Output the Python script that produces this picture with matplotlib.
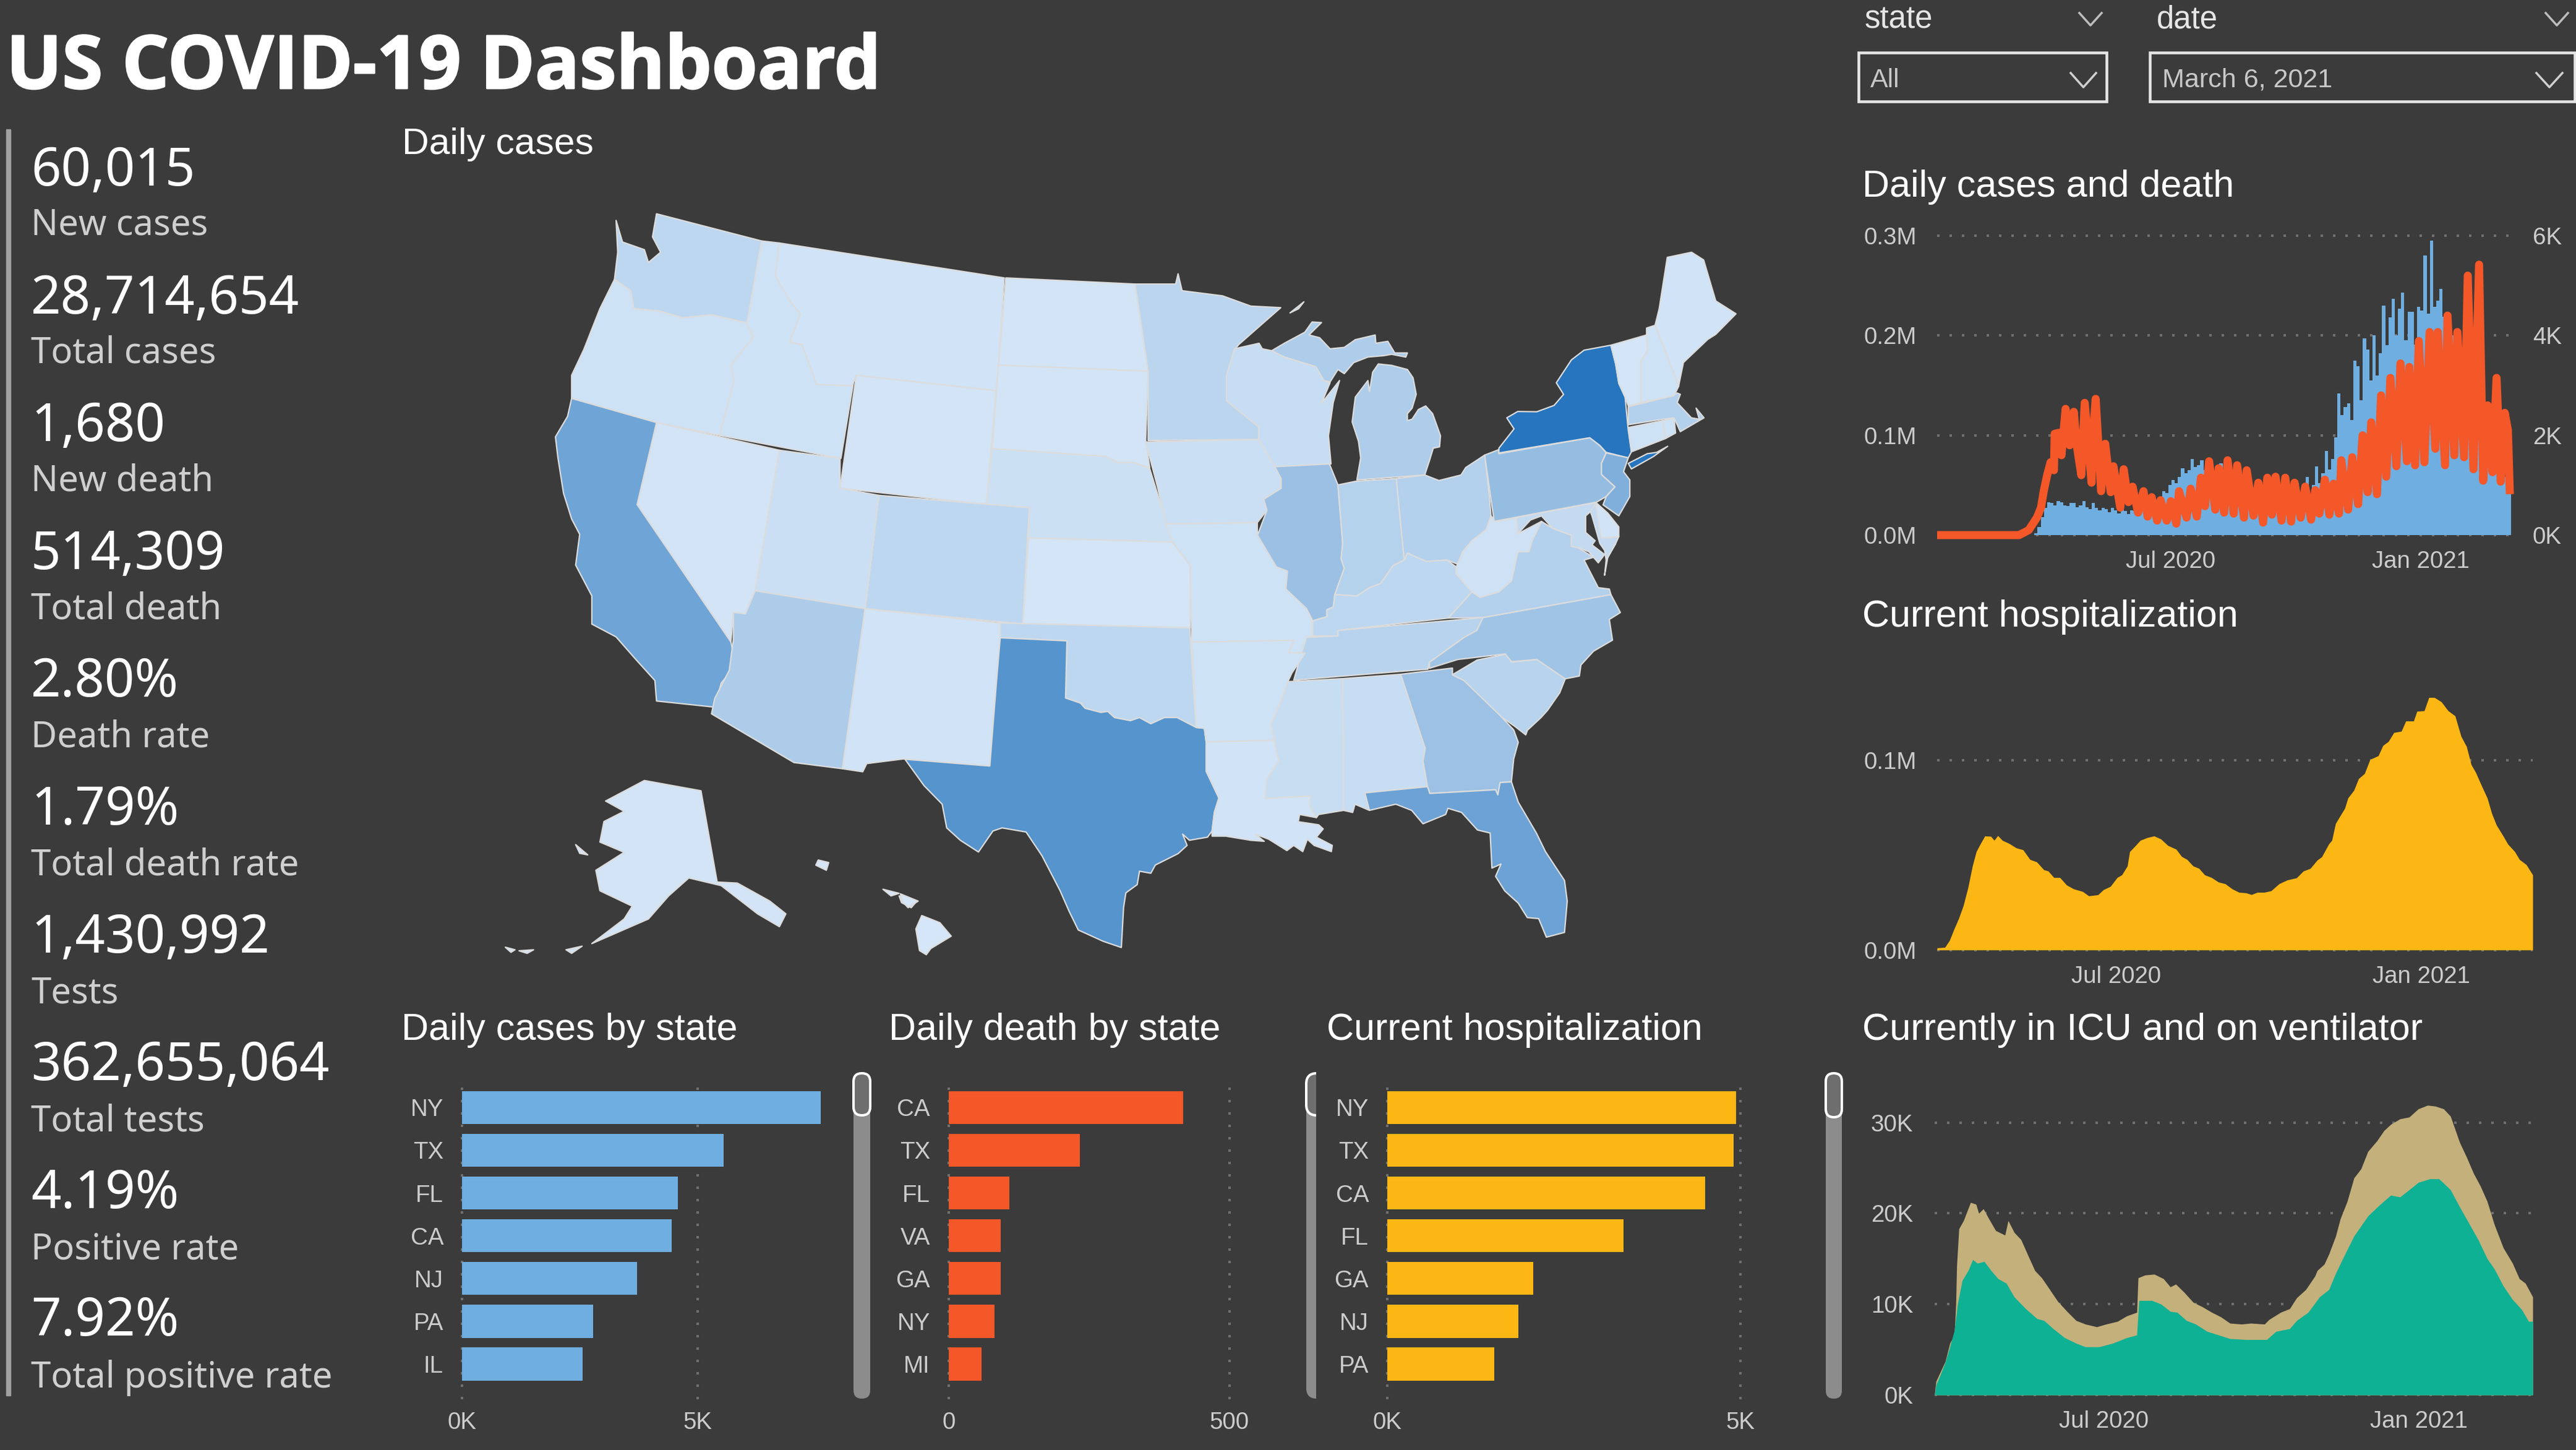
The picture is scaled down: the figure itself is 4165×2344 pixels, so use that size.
import numpy as np
import matplotlib
matplotlib.use("Agg")
import matplotlib.pyplot as plt
import matplotlib.patheffects as pe
from matplotlib.patches import Polygon, Rectangle, FancyBboxPatch
from matplotlib.colors import LinearSegmentedColormap, Normalize

W, H, DPI = 4165, 2344, 100
BG = "#3B3B3B"
BLUE, ORANGE, GOLD, TEAL, TAN = "#6FAEE0", "#F45728", "#FDB714", "#0EB194", "#C4B07B"
TICK = "#CCCCCC"
GRID = "#707070"
ARIAL = "Liberation Sans"
KPIF = "Noto Sans"

# ---------- KPI ----------
kpi_values = ["60,015", "28,714,654", "1,680", "514,309", "2.80%", "1.79%", "1,430,992",
              "362,655,064", "4.19%", "7.92%"]
kpi_labels = ["New cases", "Total cases", "New death", "Total death", "Death rate", "Total death rate",
              "Tests", "Total tests", "Positive rate", "Total positive rate"]

# ---------- bars ----------
cases_states = ["NY", "TX", "FL", "CA", "NJ", "PA", "IL"]
cases_values = [7626, 5563, 4584, 4450, 3713, 2788, 2560]
death_states = ["CA", "TX", "FL", "VA", "GA", "NY", "MI"]
death_values = [417, 234, 108, 92, 92, 81, 58]
hosp_states = ["NY", "TX", "CA", "FL", "GA", "NJ", "PA"]
hosp_values = [4941, 4909, 4506, 3348, 2071, 1856, 1518]

# ---------- daily cases (thousands, 3 readings a week starting at day 70; day 0 = 13 Jan 2020) ----------
daily_cases_k = [
    0, 2, 8, 18, 27, 33, 32, 30, 34, 33, 30, 29, 32, 32, 28, 30, 34, 28, 26, 32, 27, 25, 27, 26,
    23, 27, 25, 22, 28, 24, 21, 25, 24, 21, 25, 23, 26, 27, 30, 33, 38, 44, 42, 50, 55, 52, 58, 67,
    62, 65, 76, 68, 70, 75, 65, 68, 75, 62, 64, 72, 57, 60, 68, 52, 55, 62, 48, 50, 56, 42, 46, 50,
    36, 40, 46, 33, 38, 44, 30, 42, 52, 34, 40, 52, 38, 45, 58, 40, 50, 69, 52, 62, 84, 66, 76, 98,
    142, 120, 128, 132, 115, 175, 169, 135, 197, 186, 155, 200, 160, 182, 230, 190, 218, 237,
    200, 227, 243, 195, 224, 224, 191, 229, 225, 280, 222, 295, 229, 235, 247, 219, 190, 205,
    200, 165, 180, 175, 140, 150, 145, 110, 125, 120, 90, 100, 95, 75, 82, 78, 58, 70, 60]

death_days = [0, 60, 67, 73, 76, 78, 80.5, 83, 85.5, 86, 89, 91, 94, 97, 100, 102, 105.5, 108, 113, 113.7, 116,
              120, 123, 127, 129, 134, 136.5, 140, 143, 147, 151, 154, 157, 161, 163.5, 168, 171, 175, 177,
              182.5, 185.5, 190, 193, 196, 199, 203.5, 206, 210, 212.5, 217, 219.5, 224.5, 226.5, 231.5, 235,
              238.5, 241.6, 245, 247.6, 252, 254.7, 259, 261.5, 266, 269.3, 273.6, 276.6, 279.6, 283.7, 287,
              290, 294, 295.7, 300.7, 303.7, 308, 311.3, 315, 317.6, 321.8, 324.8, 328.6, 331.6, 336, 339,
              343.7, 345.5, 349.7, 352.4, 356.5, 360.3, 364.5, 366.3, 371.6, 373.4, 378.4, 380.6, 385.5,
              388.2, 392.4, 396.5, 399.5, 402.8, 406.3, 409.3, 412.3, 415.3, 417.6, 419]
death_k = [0, 0, .1, .35, .55, .88, 1.2, 1.46, 1.3, 2.03, 2.05, 1.6, 2.53, 1.8, 2.47, 1.83, 1.2, 2.65, 1.05, 1.9, 2.73,
           .88, 1.83, .86, 1.38, .55, 1.32, .66, .97, .45, .88, .37, .76, .29, .7, .29, .68, .23, .88,
           .35, .93, .37, 1.15, .58, 1.48, .51, 1.34, .45, 1.5, .43, 1.4, .35, 1.3, .39, 1.05,
           .25, 1.15, .41, 1.17, .29, 1.15, .27, 1.05, .35, .97, .31, .9, .43, 1.11, .41,
           1.03, .43, 1.5, .51, 1.56, .62, 2.0, .86, 2.26, .82, 2.8, 1.17, 3.15, 1.38, 3.44,
           1.48, 3.37, 1.4, 3.89, 1.46, 4.07, 1.73, 4.07, 1.4, 4.4, 1.6, 4.07, 1.56,
           5.2, 1.32, 5.42, 1.09, 2.6, 1.26, 3.15, 1.07, 2.45, 2.1, .82]

# ---------- current hospitalization (days from 15 Mar 2020, thousands) ----------
hosp_days = [0, 4.7, 7.5, 10.3, 13, 15.8, 18.6, 21.3, 23.6, 26, 28.8, 32.4, 34.4, 36.6, 39.3, 43.5, 47.7, 51.8, 56,
             60.1, 64.3, 67, 70.4, 74, 78.1, 82.3, 87.8, 91.4, 97, 100.3, 104.5, 108.6, 111.4, 114.7, 116.1, 119.7,
             122.5, 126.6, 130.8, 134.9, 139.1, 144.1, 147.4, 150.7, 154.3, 157.9, 161.3, 165.4, 169.6, 173.7,
             177.9, 182, 186.2, 189.5, 193.1, 197.3, 201.4, 206.2, 211.1, 216.7, 220.8, 225, 229.2, 231.9, 236.1,
             238, 240.2, 243, 245.8, 247.7, 251.3, 254.1, 257.7, 261, 266, 268.8, 272.1, 275.4, 279.9, 282.6,
             287.3, 289.3, 293.7, 296.5, 299.8, 304, 308.1, 312.3, 315.9, 319.2, 322, 324.7, 328.1, 331.7, 334.4,
             337.2, 341.4, 344.1, 348.3, 351.1, 355.2, 359.1]
hosp_k = [1.1, 1.4, 5.1, 11.2, 16.6, 23.4, 32.8, 44.3, 51.8, 55.8, 60.1, 59.9, 57.8, 60.3, 57.8, 56.1, 53.8, 52.8, 47.7,
          46.4, 42.3, 41.6, 38.2, 38.2, 34.2, 32.2, 30.8, 28.5, 29.1, 31.8, 33.5, 38.2, 39.6, 44.3, 51.8, 55.1,
          57.8, 59.2, 60.1, 58.5, 55.1, 53.1, 49.3, 47.7, 44.3, 43, 39.6, 38.2, 35.8, 34.9,
          32.2, 30.4, 30.1, 29.2, 30.4, 30.4, 31.2, 34.9, 36.9, 38, 41.6, 43, 47.4, 49.1, 55.8,
          57.8, 66.6, 70.7, 74.7, 80.1, 84.2, 90.3, 93, 100.4, 102.4, 107.8, 109.9, 114.6, 115.3, 120.7,
          120.7, 125.8, 126.1, 133.1, 133.1, 130.8, 126.1, 123.4, 112.6, 107.2, 97.7, 93.6, 86.9, 80.1, 72,
          65.9, 59.9, 55.8, 51.8, 47.7, 45, 39.6]

# ---------- ICU / ventilator (days from 24 Mar 2020, thousands) ----------
icu_days = [0, .8, 3.5, 6.2, 8.9, 11.5, 12.4, 12.9, 14.2, 16.9, 21, 24.2, 25.8, 28.5, 31.7, 35.7, 41.1, 43, 46.5, 50.5,
            54.5, 58.6, 62.6, 66.6, 72, 77.4, 82.7, 88.1, 94.8, 100.2, 106.9, 112.3, 118.2, 119, 123, 128.4, 133.8,
            137.8, 141, 145.9, 151.2, 156.6, 162, 167.3, 172.7, 179.4, 184.8, 192.9, 195.5, 202.3, 207.6, 211.7, 217,
            222.4, 223.7, 227.8, 230.5, 234.5, 237.2, 241.2, 245.2, 249.3, 253.3, 258.7, 262.7, 266.7, 272.1, 277.5,
            282.8, 288.2, 292.8, 297.6, 301.6, 307, 311, 315.1, 319.1, 323.1, 327.2, 332.5, 337.9, 341.9, 345.4, 349.7]
icu_k = [.2, 1.5, 2.6, 3.7, 5.7, 6.6, 10, 14.2, 18.3, 19.2, 21.2, 21, 20, 20.5, 19.4, 18.1, 17.6, 19.2, 17.9, 17.1,
         15.4, 13.7, 12.9, 11.8, 10.3, 9.2, 8.2, 7.8, 7.5, 7.8, 8.1, 8.7, 9.1, 12.9, 13.2, 13.3, 12.8,
         11.9, 12.2, 11.3, 10.2, 9.7, 9.1, 8.6, 7.9, 7.8, 7.9, 7.8, 8.3, 9.1, 9.5, 10.7, 11.6,
         13.1, 13.7, 14.4, 15.5, 17.5, 19.4, 21.3, 23.9, 24.9, 26.8, 28, 29.1, 29.8, 30.4, 30.6,
         31.5, 31.9, 31.8, 31.5, 30.7, 27.8, 26.2, 24.4, 23, 21.3, 18.8, 16.2, 14.5, 12.8, 12.3, 10.8]
vent_days = [0, .8, 3.5, 6.2, 8.9, 11.5, 13.4, 16.1, 19.6, 22.3, 25, 29, 33, 37.1, 41.9, 46.5, 53.2, 59.9, 63.9, 69.3,
             76, 82.7, 88.1, 96.2, 104.2, 112.3, 118.2, 119.5, 127, 132.4, 137.8, 141.8, 147.2, 152.6, 159.3, 166,
             172.7, 182.1, 190.2, 194.2, 199.6, 207.6, 211.7, 218.4, 225.1, 230.5, 234.5, 239.9, 245.2, 253.3, 260,
             266.7, 272.1, 277.5, 282.8, 289.6, 294.9, 301.6, 307, 312.4, 317.8, 323.1, 327.2, 332.5, 337.9, 343.3,
             347.3, 349.7]
vent_k = [0, 1.1, 2.3, 3.6, 5.3, 7.1, 10, 12.6, 13.7, 14.9, 14.5, 14.7, 13.7, 12.8, 12.3, 10.8, 9.5, 8.4, 8.2, 7.3,
          6.3, 5.7, 5.3, 5.3, 5.7, 6.3, 6.6, 10.4, 10.4, 10, 9.2, 9.1, 8.2, 7.8, 7, 6.6,
          6.2, 6.1, 6.1, 6.1, 7, 7.3, 8.2, 9.1, 10.8, 11.6, 13.4, 15.5, 17.5, 19.7, 20.9,
          22, 21.8, 22.6, 23.4, 23.8, 23.8, 22.6, 20.7, 18.9, 17.1, 15, 13.9, 12, 10.5, 9.4,
          8.1, 8.1]

# ---------- map: daily cases per state, outlines in three tracing frames ----------
state_cases = dict(WA=1000, OR=300, ID=300, MT=180, WY=120, ND=130, SD=170, NE=400, KS=100, CO=1000, UT=500,
                   NV=130, CA=4450, AZ=1750, NM=200, TX=5563, OK=1000, MN=1150, WI=600, IA=500, IL=2560, MO=300,
                   AR=300, LA=200, MS=650, AL=600, GA=2500, FL=4584, SC=1300, NC=2300, TN=1300, KY=1000, VA=1500,
                   WV=280, OH=1500, IN=1400, MI=1700, PA=2788, NY=7626, NJ=3713, MD=800, DE=200, CT=300, RI=300,
                   MA=1500, VT=100, NH=300, ME=200, AK=150, HI=50)
frames = {"M": (800, 300, 2050 / 1568, 1300 / 1568),
          "A": (2000, 450, 800 / 1568, 700 / 1568),
          "B": (1450, 1100, 1150 / 1568, 1 / 3)}
shapes_m = {
 "WA": [[(150,68),(158,110),(185,125),(190,150),(205,130),(195,100),(200,55),(330,108),(312,268),(268,252),(232,258),(205,245),(172,240),(168,205),(148,183),(152,130)]],
 "OR": [[(148,183),(168,205),(172,240),(205,245),(232,258),(268,252),(312,268),(320,295),(292,350),(296,380),(278,487),(200,462),(95,415),(95,370),(110,320),(130,240)]],
 "ID": [[(330,108),(352,112),(347,175),(365,225),(378,250),(365,305),(380,310),(398,388),(440,385),(445,370),(428,532),(278,487),(296,380),(292,350),(320,295),(312,268)]],
 "MT": [[(352,112),(630,180),(623,350),(620,400),(447,370),(442,390),(398,388),(380,310),(365,305),(378,250),(365,225),(347,175)]],
 "WY": [[(447,370),(620,400),(608,622),(427,590)]],
 "ND": [[(632,180),(792,192),(808,362),(623,350)]],
 "SD": [[(623,350),(808,362),(805,497),(810,550),(790,540),(770,540),(755,528),(615,513)]],
 "NE": [[(615,513),(755,528),(770,540),(790,540),(810,552),(838,695),(660,687),(661,628),(608,622)]],
 "KS": [[(660,687),(838,695),(860,740),(860,862),(653,855)]],
 "CO": [[(475,604),(661,628),(653,855),(458,825)]],
 "UT": [[(352,516),(427,532),(427,590),(475,604),(458,825),(322,790)]],
 "NV": [[(200,462),(352,516),(322,790),(310,835),(295,832),(292,890),(176,622)]],
 "CA": [[(95,415),(200,462),(176,622),(292,890),(298,935),(280,970),(272,1017),(200,1005),(198,965),(175,925),(150,880),(120,855),(120,800),(100,740),(105,680),(95,650),(85,600),(78,530),(75,490),(90,450)]],
 "AZ": [[(322,790),(458,825),(430,1137),(370,1125),(268,1030),(272,1000),(290,945),(295,885),(295,832),(310,835)]],
 "NM": [[(458,825),(625,853),(625,882),(612,1132),(505,1118),(460,1127),(455,1143),(430,1137)]],
 "MN": [[(792,192),(842,192),(845,172),(850,205),(900,215),(935,235),(972,238),(920,310),(915,320),(905,370),(915,430),(945,470),(945,495),(808,497),(808,362)]],
 "IA": [[(805,500),(945,495),(965,548),(973,571),(973,590),(951,611),(955,633),(943,657),(830,660),(820,590)]],
 "MO": [[(830,660),(943,657),(943,681),(967,743),(981,751),(978,786),(1004,824),(1011,849),(1011,878),(1004,881),(1002,911),(982,911),(988,887),(862,890),(860,740),(838,695)]],
 "SC": [[(1184,954),(1215,925),(1250,914),(1258,929),(1289,924),(1324,961),(1317,989),(1302,1023),(1294,1037),(1277,1062),(1275,1071),(1262,1055),(1243,1034),(1196,965)]],
 "ME": [[(1435,272),(1440,240),(1450,140),(1480,130),(1495,145),(1510,225),(1535,250),(1510,290),(1500,300),(1470,345),(1464,391)]],
 "AK": [[(185,1160),(255,1180),(275,1358),(300,1360),(340,1395),(360,1420),(352,1445),(325,1420),(280,1365),(240,1350),(215,1385),(190,1430),(120,1478),(160,1430),(170,1405),(130,1375),(125,1335),(160,1300),(130,1280),(135,1240),(160,1220),(137,1200)],
        [(88,1490),(108,1483),(95,1497)], [(13,1485),(25,1490),(20,1495)], [(30,1492),(48,1490),(40,1497)], [(100,1285),(115,1305),(105,1302)]],
 "HI": [[(500,1385),(522,1395),(515,1408),(503,1398)], [(400,1315),(413,1320),(410,1335),(397,1325)], [(480,1372),(500,1380),(490,1385)]],
}
shapes_a = {
 "MI": [[(110,262),(150,235),(215,195),(238,158),(268,160),(228,205),(262,215),(295,255),(340,250),(375,222),(438,205),(440,235),(478,228),(500,270),(540,270),(535,285),(490,275),(465,280),(415,285),(370,305),(340,345),(320,330),(295,375),(275,370),(250,320),(150,285)],
        [(448,310),(490,315),(540,330),(558,360),(568,420),(555,470),(540,490),(540,515),(555,510),(575,475),(598,462),(620,490),(645,570),(642,610),(622,615),(610,660),(595,712),(380,730),(392,650),(385,590),(365,520),(375,430),(415,370),(420,410),(430,340)],
        [(168,125),(212,85),(195,110)]],
 "WI": [[(-8,255),(70,235),(80,255),(110,262),(150,285),(250,320),(275,370),(295,378),(268,452),(325,370),(305,450),(290,570),(298,672),(120,682),(69,583),(69,538),(-33,444),(-33,351)]],
 "IL": [[(120,682),(293,672),(320,748),(335,960),(330,1015),(340,1050),(310,1145),(305,1190),(285,1200),(285,1225),(240,1240),(220,1195),(155,1125),(160,1060),(125,1045),(65,930),(95,840),(85,800),(140,760),(140,725)]],
 "IN": [[(320,748),(375,735),(505,725),(530,1020),(495,1040),(455,1105),(420,1120),(380,1150),(310,1145),(340,1050),(330,1015),(335,960)]],
 "OH": [[(505,725),(595,712),(640,732),(710,712),(725,685),(785,640),(800,790),(805,860),(790,910),(745,950),(715,990),(700,1035),(665,1020),(600,1025),(540,995),(530,1020)]],
 "KY": [[(240,1240),(285,1225),(285,1200),(305,1190),(310,1145),(380,1150),(420,1120),(455,1105),(495,1040),(530,1020),(540,995),(600,1025),(665,1020),(695,1045),(695,1070),(745,1135),(670,1230),(320,1275),(320,1295),(240,1295)]],
 "TN": [[(220,1300),(320,1295),(320,1275),(780,1228),(760,1275),(720,1300),(610,1390),(605,1415),(180,1455),(195,1395)]],
 "NC": [[(780,1228),(1185,1145),(1215,1210),(1180,1235),(1190,1310),(1130,1350),(1090,1400),(1085,1440),(1040,1450),(950,1380),(870,1388),(850,1360),(700,1380),(610,1412),(610,1390),(720,1300),(760,1275)]],
 "VA": [[(670,1230),(745,1135),(770,1155),(830,1135),(870,1095),(890,990),(925,990),(935,950),(965,880),(1000,905),(1060,930),(1060,970),(1080,975),(1130,1010),(1100,1020),(1145,1120),(1180,1125),(1185,1145),(780,1228)],
        [(1200,960),(1170,1020),(1165,1075),(1175,1010)]],
 "WV": [[(695,1045),(715,990),(745,950),(790,910),(805,860),(820,880),(885,865),(890,925),(965,880),(935,950),(925,990),(890,990),(870,1095),(830,1135),(770,1155),(745,1135),(695,1070)]],
 "MD": [[(820,880),(1138,812),(1125,840),(1105,860),(1105,920),(1135,950),(1125,965),(1165,1000),(1145,1030),(1115,990),(1080,975),(1060,970),(1060,930),(1000,905),(965,860),(930,875),(890,925),(885,865)],
        [(1138,812),(1150,880),(1180,940),(1210,935),(1200,960),(1170,1020),(1165,985),(1150,960),(1125,860),(1120,845)]],
 "DE": [[(1138,812),(1175,850),(1210,900),(1210,935),(1155,940),(1145,880)]],
 "PA": [[(785,640),(830,620),(830,635),(1118,577),(1150,605),(1170,632),(1155,670),(1155,710),(1198,755),(1170,790),(1140,810),(815,880)]],
 "NY": [[(830,632),(830,615),(878,545),(855,505),(890,482),(950,483),(1005,460),(1035,420),(1012,378),(1060,295),(1100,260),(1185,242),(1200,310),(1210,380),(1230,430),(1240,550),(1250,628),(1240,650),(1170,630),(1150,605),(1118,577)],
        [(1240,670),(1300,635),(1330,630),(1365,608),(1320,645),(1250,690)]],
 "NJ": [[(1170,632),(1240,650),(1225,700),(1245,730),(1245,790),(1210,860),(1160,820),(1170,790),(1198,755),(1155,710),(1155,670)]],
 "CT": [[(1240,540),(1350,515),(1358,580),(1250,628)]],
 "RI": [[(1350,515),(1385,505),(1390,560),(1358,580)]],
 "MA": [[(1240,465),(1380,425),(1395,415),(1405,420),(1395,450),(1440,505),(1465,510),(1455,470),(1480,505),(1405,555),(1385,505),(1350,510),(1240,530)]],
 "VT": [[(1185,242),(1298,205),(1302,260),(1280,300),(1280,450),(1240,462),(1230,430),(1210,380),(1200,310)]],
 "NH": [[(1298,205),(1298,180),(1325,170),(1400,390),(1385,425),(1280,450),(1280,300),(1302,260)]],
}
shapes_b = {
 "OK": [[(228,-279),(646,-255),(660,228),(618,180),(590,180),(560,210),(535,180),(515,195),(480,180),(465,150),(450,155),(415,135),(405,110),(372,85),(375,-192),(228,-207)]],
 "TX": [[(228,-207),(375,-192),(372,85),(405,110),(415,135),(450,155),(465,150),(480,180),(515,195),(535,180),(560,210),(590,180),(618,180),(660,228),(678,232),(682,300),(682,440),(710,570),(700,640),(695,730),(685,760),(645,775),(630,745),(640,800),(620,840),(570,895),(560,935),(535,925),(530,990),(505,1030),(500,1100),(495,1295),(455,1265),(400,1210),(380,1120),(360,1020),(320,850),(285,735),(232,715),(212,730),(180,832),(140,775),(110,715),(100,600),(60,510),(18,382),(205,415),(220,0)]],
 "AR": [[(650,-186),(875,-195),(864,-135),(900,-132),(871,-36),(862,6),(845,110),(825,210),(832,290),(682,298),(678,232),(660,228),(655,0)]],
 "LA": [[(682,298),(832,290),(842,390),(815,480),(812,572),(912,560),(910,610),(925,665),(888,650),(885,685),(930,700),(940,720),(925,760),(960,800),(958,830),(920,800),(905,770),(895,830),(875,800),(860,825),(820,770),(790,745),(810,780),(780,775),(725,755),(695,755),(695,730),(700,640),(710,570),(682,440)]],
 "MS": [[(862,6),(983,-9),(985,630),(930,650),(925,665),(910,610),(912,560),(812,572),(815,480),(842,390),(832,290),(825,210),(845,110)]],
 "AL": [[(983,-9),(1111,-30),(1165,330),(1160,390),(1170,515),(1032,545),(1042,630),(1010,600),(1005,640),(985,630)]],
 "GA": [[(1111,-30),(1225,-60),(1225,-27),(1250,0),(1330,170),(1360,240),(1370,300),(1360,380),(1355,490),(1330,495),(1325,555),(1320,530),(1175,548),(1170,515),(1160,390),(1165,330)]],
 "FL": [[(1032,545),(1170,515),(1175,548),(1320,530),(1325,555),(1330,495),(1355,492),(1370,590),(1410,740),(1430,830),(1472,970),(1478,1070),(1472,1222),(1432,1245),(1415,1155),(1390,1150),(1370,1080),(1340,1020),(1320,950),(1332,890),(1312,910),(1308,740),(1280,725),(1245,640),(1215,620),(1210,650),(1160,695),(1135,630),(1100,600),(1042,630)]],
 "HI": [[(55,1140),(95,1175),(120,1240),(75,1300),(65,1330),(50,1310),(42,1205)], [(8,1035),(47,1070),(25,1102),(12,1072)]],
}

# ---------- helpers ----------
fig = plt.figure(figsize=(W / DPI, H / DPI), dpi=DPI, facecolor=BG)
px = 72.0 / DPI


def axpx(x0, y0, x1, y1, **kw):
    ax = fig.add_axes([x0 / W, 1 - y1 / H, (x1 - x0) / W, (y1 - y0) / H], **kw)
    ax.patch.set_alpha(0)
    for s in ax.spines.values():
        s.set_visible(False)
    return ax


def label(x, y, s, size, color="white", family=ARIAL, weight="normal", ha="left"):
    return fig.text(x / W, 1 - y / H, s, fontsize=size * px, color=color, family=family, weight=weight,
                    ha=ha, va="baseline")


def dotted(ax, axis):
    ax.grid(True, axis=axis, color=GRID, linewidth=4 * px, linestyle=(0, (1, 4)), dash_capstyle="butt", clip_on=False)
    ax.set_axisbelow(True)


# ---------- header, KPI ----------
ttl = label(10, 143, "US COVID-19 Dashboard", 119.5, family="Open Sans", weight="bold")
ttl.set_path_effects([pe.withStroke(linewidth=2.5 * px, foreground="white")])
fig.add_artist(Rectangle((10 / W, 1 - 2256 / H), 7 / W, (2256 - 209) / H, color="#A0A0A0", transform=fig.transFigure))
for i, (v, l) in enumerate(zip(kpi_values, kpi_labels)):
    label(50, 300 + i * 206.6, v, 85, family=KPIF)
    label(50, 379 + i * 207.1, l, 58, color="#CFCFCF", family=KPIF)

label(650, 249, "Daily cases", 60.5)
label(649, 1681, "Daily cases by state", 61)
label(1437, 1681, "Daily death by state", 61)
label(2145, 1681, "Current hospitalization", 61)
label(3011, 318, "Daily cases and death", 61)
label(3011, 1013, "Current hospitalization", 61)
label(3011, 1681, "Currently in ICU and on ventilator", 61.2)
label(3015, 45, "state", 51, color="#E6E6E6")
label(3487, 45, "date", 51, color="#E6E6E6")
label(3024, 141, "All", 43, color="#C8C8C8")
label(3496, 141, "March 6, 2021", 43.2, color="#C8C8C8")

# ---------- map ----------
mp = axpx(780, 300, 2850, 1600)
mp.set_xlim(780, 2850)
mp.set_ylim(1600, 300)
mp.axis("off")
cmap = LinearSegmentedColormap.from_list("cases", ["#D5E6F7", "#2675BE"])
norm = Normalize(0, 7626)
for frame, shapes in (("M", shapes_m), ("A", shapes_a), ("B", shapes_b)):
    ox, oy, sx, sy = frames[frame]
    for st, polys in shapes.items():
        for poly in polys:
            pts = [(ox + p * sx, oy + q * sy) for p, q in poly]
            mp.add_patch(Polygon(pts, closed=True, facecolor=cmap(norm(state_cases[st])), edgecolor="#DCDCDC",
                                 linewidth=2.2 * px, joinstyle="round"))


# ---------- bars ----------
def bars(x0, x1, per_px, states, values, color, ticks, ticklabels):
    ax = axpx(x0, 1742, x1, 2262)
    ax.barh(np.arange(len(values)), values, height=0.77, color=color, zorder=3)
    ax.set_xlim(0, (x1 - x0) * per_px)
    ax.set_ylim(6.824, -0.698)
    ax.set_yticks(np.arange(len(states)), states)
    ax.set_xticks(ticks, ticklabels)
    dotted(ax, "x")
    ax.tick_params(length=0, labelsize=38.5 * px, labelcolor=TICK)
    ax.tick_params(axis="y", pad=30 * px)
    ax.tick_params(axis="x", pad=20 * px)
    for t in ax.get_xticklabels() + ax.get_yticklabels():
        t.set_family(ARIAL)
    return ax


bars(747, 1370, 5000 / 380.6, cases_states, cases_values, BLUE, [0, 5000], ["0K", "5K"])
bars(1534, 2060, 500 / 454.0, death_states, death_values, ORANGE, [0, 500], ["0", "500"])
bars(2243, 2860, 5000 / 570.6, hosp_states, hosp_values, GOLD, [0, 5000], ["0K", "5K"])


# ---------- time series ----------
def style(ax, month_ticks, ylabels_pad=33):
    ax.set_xticks(month_ticks, ["Jul 2020", "Jan 2021"])
    dotted(ax, "y")
    ax.tick_params(length=0, labelsize=38.5 * px, labelcolor=TICK)
    ax.tick_params(axis="y", pad=ylabels_pad * px)
    ax.tick_params(axis="x", pad=25 * px)
    for t in ax.get_xticklabels() + ax.get_yticklabels():
        t.set_family(ARIAL)


# daily cases and death
a1 = axpx(3132, 381, 4062, 865)
case_days = 70 + np.arange(len(daily_cases_k)) * 7 / 3
a1.fill_between(case_days, np.array(daily_cases_k) / 1000, step="mid", color=BLUE, linewidth=0, zorder=2)
a1.set_xlim(0, 420.8)
a1.set_ylim(0, 0.3)
a1.set_yticks([0, .1, .2, .3], ["0.0M", "0.1M", "0.2M", "0.3M"])
style(a1, [171, 354])
a1b = a1.twinx()
a1b.patch.set_alpha(0)
for s in a1b.spines.values():
    s.set_visible(False)
a1b.plot(death_days, np.array(death_k) * 1000, color=ORANGE, linewidth=13 * px, solid_joinstyle="round",
         solid_capstyle="butt", clip_on=False, zorder=4)
a1b.set_ylim(0, 6000)
a1b.set_yticks([0, 2000, 4000, 6000], ["0K", "2K", "4K", "6K"])
a1b.tick_params(length=0, labelsize=38.5 * px, labelcolor=TICK, pad=33 * px)
for t in a1b.get_yticklabels():
    t.set_family(ARIAL)

# current hospitalization
a2 = axpx(3132, 1120, 4095, 1535.7)
a2.fill_between(hosp_days, np.array(hosp_k) / 1000, color=GOLD, linewidth=0, zorder=2)
a2.set_xlim(0, 359.1)
a2.set_ylim(0, 415.7 / 3067)
a2.set_yticks([0, .1], ["0.0M", "0.1M"])
style(a2, [108, 292])

# ICU and ventilator
a3 = axpx(3128, 1780, 4095, 2255)
a3.fill_between(icu_days, icu_k, color=TAN, linewidth=0, zorder=2)
a3.fill_between(vent_days, vent_k, color=TEAL, linewidth=0, zorder=3)
a3.set_xlim(0, 349.7)
a3.set_ylim(0, 475 / 14.68)
a3.set_yticks([0, 10, 20, 30], ["0K", "10K", "20K", "30K"])
style(a3, [99, 283], ylabels_pad=35)

# ---------- interface furniture in picture pixels ----------
ui = fig.add_axes([0, 0, 1, 1], zorder=10)
ui.patch.set_alpha(0)
ui.set_xlim(0, W)
ui.set_ylim(H, 0)
ui.axis("off")
for x0, x1 in [(3005, 3406), (3476, 4163)]:
    ui.add_patch(Rectangle((x0, 85), x1 - x0, 79, fill=False, edgecolor="#E6E6E6", linewidth=4.5 * px))
for cx0, cx1, cy0, cy1, col in [(3362, 3398, 21, 41, "#BDBDBD"), (4116, 4152, 21, 41, "#BDBDBD"),
                                (3348, 3389, 118, 141, "#D0D0D0"), (4101, 4143, 118, 141, "#D0D0D0")]:
    ui.plot([cx0, (cx0 + cx1) / 2, cx1], [cy0, cy1, cy0], color=col, linewidth=3.5 * px)


def scrollbar(x0, x1, thumb_bottom, clip_x=None):
    wd = x1 - x0
    track = FancyBboxPatch((x0, 1735), wd, 2261 - 1735, boxstyle=f"round,pad=0,rounding_size={wd/2}",
                           facecolor="#8C8C8C", edgecolor="none")
    thumb = FancyBboxPatch((x0, 1735), wd, thumb_bottom - 1735, boxstyle=f"round,pad=0,rounding_size={wd/2}",
                           facecolor="#6E6E6E", edgecolor="white", linewidth=4 * px)
    for p in (track, thumb):
        ui.add_patch(p)
        if clip_x:
            p.set_clip_path(Rectangle((x0 - 10, 1700), clip_x - x0 + 10, 600, transform=ui.transData))


scrollbar(1380, 1407, 1803)
scrollbar(2112, 2146, 1803, clip_x=2128)
scrollbar(2952, 2978, 1806)

fig.savefig("out.png", dpi=DPI, facecolor=BG)
